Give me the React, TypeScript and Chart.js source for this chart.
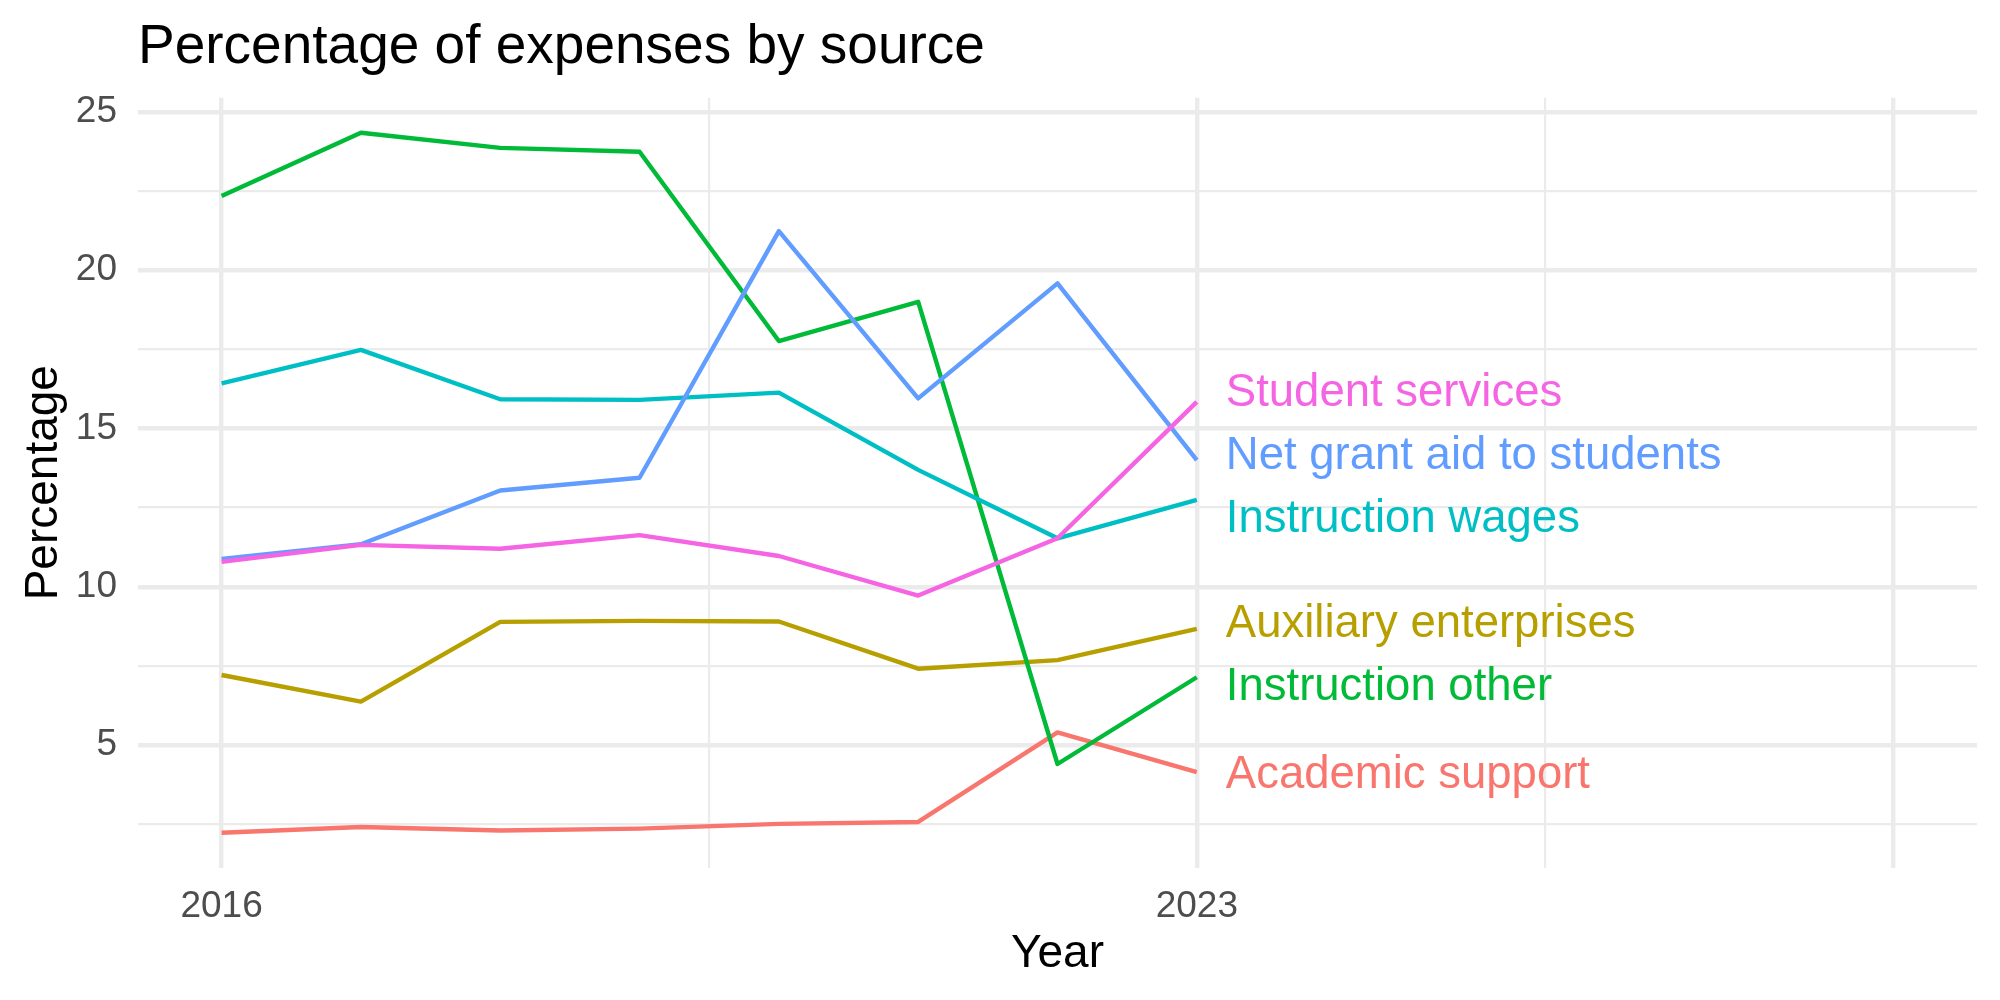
import React, { useEffect, useRef } from "react";
import { Chart, registerables } from "chart.js";

Chart.register(...registerables);

// ---- Data ----
const years = [2016, 2017, 2018, 2019, 2020, 2021, 2022, 2023];
const seriesNames = [
  "Academic support",
  "Auxiliary enterprises",
  "Instruction other",
  "Instruction wages",
  "Net grant aid to students",
  "Student services",
];
const seriesColors = ["#F8766D", "#B79F00", "#00BA38", "#00BFC4", "#619CFF", "#F564E3"];
const academicSupport = [2.23, 2.41, 2.3, 2.36, 2.51, 2.57, 5.4, 4.14];
const auxiliaryEnterprises = [7.21, 6.37, 8.89, 8.92, 8.9, 7.41, 7.68, 8.67];
const instructionOther = [22.34, 24.34, 23.86, 23.74, 17.76, 19.0, 4.4, 7.14];
const instructionWages = [16.42, 17.48, 15.92, 15.9, 16.13, 13.69, 11.53, 12.74];
const netGrantAid = [10.88, 11.34, 13.04, 13.44, 21.23, 15.95, 19.58, 14.0];
const studentServices = [10.79, 11.32, 11.2, 11.63, 10.97, 9.72, 11.53, 15.84];
const seriesValues = [
  academicSupport,
  auxiliaryEnterprises,
  instructionOther,
  instructionWages,
  netGrantAid,
  studentServices,
];

const xMajorTicks = [2016, 2023, 2028];
const xTickLabels = ["2016", "2023", ""];
const xMinorTicks = [2019.5, 2025.5];
const yMajorTicks = [5, 10, 15, 20, 25];
const yMinorTicks = [2.5, 7.5, 12.5, 17.5, 22.5];

const titleText = "Percentage of expenses by source";
const xTitle = "Year";
const yTitle = "Percentage";

// ---- Styling ----
const FONT = '"Liberation Sans", Arial, Helvetica, sans-serif';
const GRID = "#EBEBEB";
const MAJOR_W = 4.4;
const MINOR_W = 2.2;

const allVals = seriesValues.flat();
const yLo = Math.min(...allVals);
const yHi = Math.max(...allVals);
const yPad = (yHi - yLo) * 0.05;
const xLo = Math.min(...xMajorTicks);
const xHi = Math.max(...xMajorTicks);
const xPad = (xHi - xLo) * 0.05;

const textPlugin = {
  id: "textPlugin",
  afterDraw(chart: any) {
    const { ctx, chartArea } = chart;
    ctx.save();
    // Title
    ctx.fillStyle = "#000000";
    ctx.font = `55px ${FONT}`;
    ctx.textAlign = "left";
    ctx.textBaseline = "alphabetic";
    ctx.fillText(titleText, chartArea.left, 63);

    // Axis titles
    ctx.font = `46px ${FONT}`;
    ctx.textAlign = "center";
    ctx.textBaseline = "middle";
    ctx.fillText(xTitle, (chartArea.left + chartArea.right) / 2, 954);
    ctx.save();
    ctx.translate(44, (chartArea.top + chartArea.bottom) / 2);
    ctx.rotate(-Math.PI / 2);
    ctx.fillText(yTitle, 0, 0);
    ctx.restore();

    // Direct labels, repelled vertically
    const items = chart.data.datasets.map((ds: any, i: number) => {
      const meta = chart.getDatasetMeta(i);
      const pt = meta.data[meta.data.length - 1];
      return { text: ds.label, color: ds.borderColor, x: pt.x + 29, y0: pt.y, y: pt.y };
    });
    items.sort((a: any, b: any) => a.y0 - b.y0);
    const gap = 63;
    let clusters = items.map((it: any) => [it]);
    let changed = true;
    const place = (cl: any[]) => {
      const mean = cl.reduce((s, it) => s + it.y0, 0) / cl.length;
      const start = mean - ((cl.length - 1) * gap) / 2;
      cl.forEach((it, k) => (it.y = start + k * gap));
    };
    clusters.forEach(place);
    while (changed) {
      changed = false;
      for (let i = 0; i < clusters.length - 1; i++) {
        const a = clusters[i];
        const b = clusters[i + 1];
        if (b[0].y - a[a.length - 1].y < gap) {
          const merged = [...a, ...b];
          place(merged);
          clusters.splice(i, 2, merged);
          changed = true;
          break;
        }
      }
    }
    ctx.font = `45.5px ${FONT}`;
    ctx.textAlign = "left";
    ctx.textBaseline = "middle";
    items.forEach((it: any) => {
      ctx.fillStyle = it.color;
      ctx.fillText(it.text, it.x, it.y + 3);
    });
    ctx.restore();
  },
};

export default function App() {
  const canvasRef = useRef<HTMLCanvasElement | null>(null);

  useEffect(() => {
    if (!canvasRef.current) return;
    const n = seriesNames.length;
    const chart = new Chart(canvasRef.current, {
      type: "line",
      data: {
        datasets: seriesNames.map((name, i) => ({
          label: name,
          data: years.map((yr, j) => ({ x: yr, y: seriesValues[i][j] })),
          borderColor: seriesColors[i],
          backgroundColor: seriesColors[i],
          borderWidth: MAJOR_W,
          pointRadius: 0,
          pointHoverRadius: 0,
          tension: 0,
          fill: false,
          borderJoinStyle: "round",
          borderCapStyle: "butt",
          order: n - 1 - i,
        })),
      },
      options: {
        animation: false,
        responsive: true,
        maintainAspectRatio: false,
        devicePixelRatio: 1,
        layout: { padding: { top: 97.7, right: 23, bottom: 0, left: 0 } },
        plugins: {
          legend: { display: false },
          tooltip: { enabled: false },
          title: { display: false },
        },
        scales: {
          x: {
            type: "linear",
            min: xLo - xPad,
            max: xHi + xPad,
            afterBuildTicks: (axis: any) => {
              axis.ticks = [...xMajorTicks, ...xMinorTicks]
                .sort((a, b) => a - b)
                .map((v) => ({ value: v }));
            },
            afterFit: (axis: any) => {
              axis.height = 132.3;
            },
            ticks: {
              autoSkip: false,
              maxRotation: 0,
              minRotation: 0,
              padding: 17,
              color: "#4D4D4D",
              font: { family: FONT, size: 37 },
              callback: (v: any) => {
                const k = xMajorTicks.indexOf(Number(v));
                return k >= 0 ? xTickLabels[k] : "";
              },
            },
            grid: {
              color: GRID,
              drawTicks: false,
              lineWidth: (c: any) =>
                c.tick && xMajorTicks.includes(c.tick.value) ? MAJOR_W : MINOR_W,
            },
            border: { display: false },
          },
          y: {
            type: "linear",
            min: yLo - yPad,
            max: yHi + yPad,
            afterBuildTicks: (axis: any) => {
              axis.ticks = [...yMajorTicks, ...yMinorTicks]
                .sort((a, b) => a - b)
                .map((v) => ({ value: v }));
            },
            afterFit: (axis: any) => {
              axis.width = 138;
            },
            ticks: {
              autoSkip: false,
              padding: 21,
              color: "#4D4D4D",
              font: { family: FONT, size: 37 },
              callback: (v: any) => (yMajorTicks.includes(Number(v)) ? String(v) : ""),
            },
            grid: {
              color: GRID,
              drawTicks: false,
              lineWidth: (c: any) =>
                c.tick && yMajorTicks.includes(c.tick.value) ? MAJOR_W : MINOR_W,
            },
            border: { display: false },
          },
        },
      } as any,
      plugins: [textPlugin],
    });
    return () => chart.destroy();
  }, []);

  return (
    <div
      style={{
        position: "absolute",
        left: 0,
        top: 0,
        width: 2000,
        height: 1000,
        background: "#ffffff",
      }}
    >
      <canvas ref={canvasRef} />
    </div>
  );
}
